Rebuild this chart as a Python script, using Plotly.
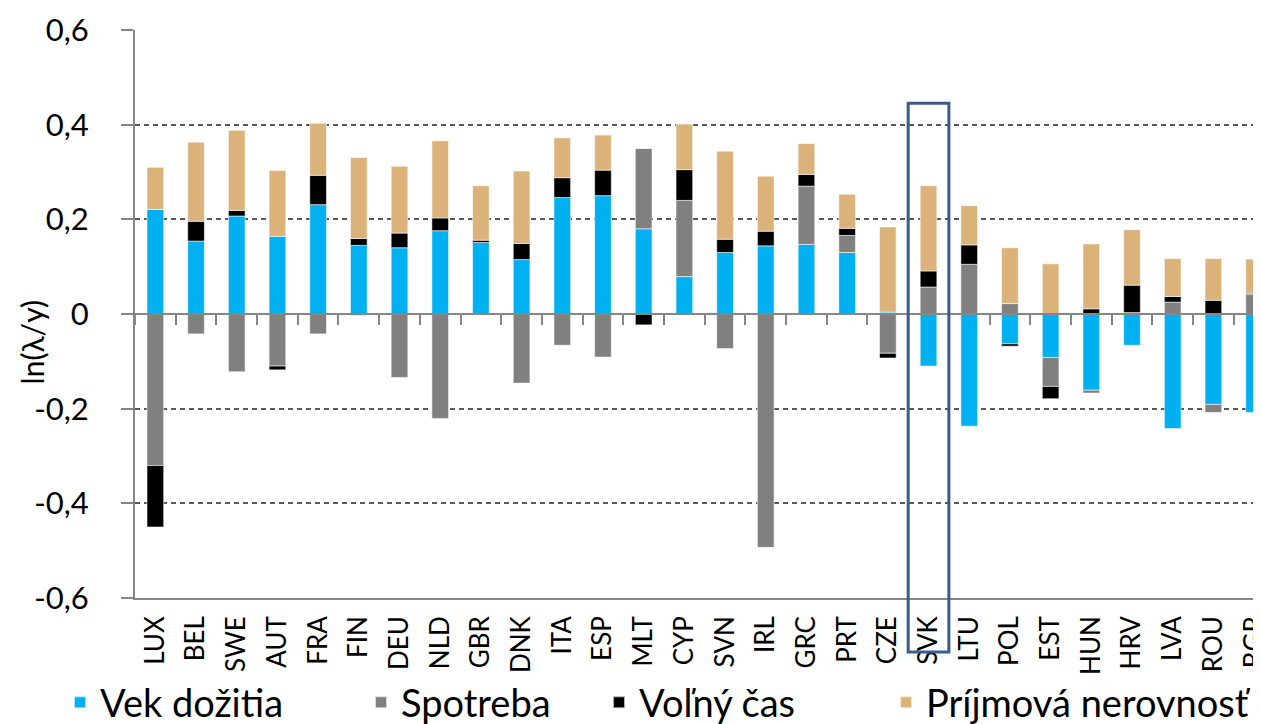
import plotly.graph_objects as go

countries = ["LUX", "BEL", "SWE", "AUT", "FRA", "FIN", "DEU", "NLD", "GBR", "DNK",
             "ITA", "ESP", "MLT", "CYP", "SVN", "IRL", "GRC", "PRT", "CZE", "SVK",
             "LTU", "POL", "EST", "HUN", "HRV", "LVA", "ROU", "BGR"]

vek_dozitia = [0.221, 0.154, 0.207, 0.164, 0.231, 0.145, 0.140, 0.176, 0.151, 0.115,
               0.246, 0.250, 0.180, 0.079, 0.130, 0.144, 0.147, 0.130, 0.004, -0.110,
               -0.237, -0.063, -0.092, -0.161, -0.066, -0.242, -0.191, -0.208]
spotreba = [-0.320, -0.042, -0.122, -0.110, -0.042, -0.003, -0.134, -0.221, -0.002, -0.146,
            -0.066, -0.091, 0.170, 0.161, -0.073, -0.493, 0.123, 0.036, -0.083, 0.057,
            0.105, 0.022, -0.061, -0.006, 0.003, 0.025, -0.017, 0.042]
volny_cas = [-0.130, 0.042, 0.012, -0.008, 0.062, 0.0145, 0.031, 0.027, 0.005, 0.034,
             0.042, 0.054, -0.023, 0.065, 0.028, 0.031, 0.025, 0.015, -0.010, 0.034,
             0.041, -0.005, -0.026, 0.011, 0.058, 0.012, 0.029, 0.002]
nerovnost = [0.089, 0.167, 0.169, 0.139, 0.110, 0.171, 0.141, 0.163, 0.115, 0.153,
             0.084, 0.074, 0.0, 0.096, 0.186, 0.116, 0.065, 0.072, 0.180, 0.180,
             0.083, 0.118, 0.106, 0.137, 0.117, 0.080, 0.088, 0.072]

series = [("Vek dožitia", vek_dozitia, "#00B0F0"),
          ("Spotreba", spotreba, "#808080"),
          ("Voľný čas", volny_cas, "#000000"),
          ("Príjmová nerovnosť", nerovnost, "#DBB37A")]

# left edge of each legend entry (paper x), one legend per series
legend_x = [-0.0666, 0.2007, 0.4121, 0.6670]

y_ticks = [-0.6, -0.4, -0.2, 0, 0.2, 0.4, 0.6]
y_ticktext = ["-0,6", "-0,4", "-0,2", "0", "0,2", "0,4", "0,6"]

highlight = "SVK"

FONT = "Lato"
AXIS_GREY = "#868686"

fig = go.Figure()
legends = {}
for i, (name, vals, col) in enumerate(series):
    lg = "legend" if i == 0 else "legend%d" % (i + 1)
    fig.add_trace(go.Bar(x=countries, y=vals, name=name, width=0.41, legend=lg,
                         marker=dict(color=col, line=dict(color="rgba(255,255,255,0.7)", width=0.8))))
    legends[lg] = dict(orientation="h", x=legend_x[i], xanchor="left", y=-0.184,
                       yanchor="middle", font=dict(size=38), itemsizing="constant",
                       bgcolor="rgba(0,0,0,0)")

# invisible trace so the zero-line category axis (ticks between categories) gets drawn
fig.add_trace(go.Scatter(x=countries, y=[None] * len(countries), xaxis="x2",
                         mode="markers", showlegend=False, hoverinfo="skip"))

# frame around the highlighted country
hi = countries.index(highlight)
fig.add_shape(type="rect", xref="x", yref="paper", x0=hi - 0.5, x1=hi + 0.5,
              y0=-0.095, y1=0.871, line=dict(color="#3B5B8C", width=3))

fig.add_annotation(text="ln(λ/y)", xref="paper", yref="paper", x=0, y=0.45,
                   xanchor="center", yanchor="middle",
                   xshift=-103, textangle=-90, showarrow=False,
                   font=dict(size=30, color="black", family=FONT))

# page body has an 8px margin, so the figure is 8px smaller than the window
fig.update_layout(
    width=1253, height=716,
    barmode="relative",
    plot_bgcolor="white", paper_bgcolor="white",
    margin=dict(l=127, r=0, t=22, b=126, autoexpand=False),
    font=dict(family=FONT, color="black"),
    xaxis=dict(range=[-0.5, 27.17], showgrid=False, ticks="", tickangle=-90,
               tickfont=dict(size=26), ticklabelstandoff=6, automargin=False,
               showline=True, linecolor=AXIS_GREY, linewidth=1.5, zeroline=False),
    xaxis2=dict(overlaying="x", matches="x", anchor="free", position=0.5,
                showline=True, linecolor=AXIS_GREY, linewidth=2, automargin=False,
                ticks="outside", tickson="boundaries", ticklen=10, tickwidth=2,
                tickcolor=AXIS_GREY, showticklabels=False, showgrid=False, zeroline=False),
    yaxis=dict(range=[-0.6, 0.6], tickvals=y_ticks, ticktext=y_ticktext,
               tickfont=dict(size=31), ticks="outside", ticklen=12, tickwidth=1.5,
               tickcolor=AXIS_GREY, ticklabelstandoff=26, automargin=False,
               showline=True, linecolor=AXIS_GREY, linewidth=2,
               showgrid=True, gridcolor="#595959", griddash="5px,4px", gridwidth=1.5,
               zeroline=False),
    showlegend=True,
    **legends,
)

fig.write_html("out.html")
